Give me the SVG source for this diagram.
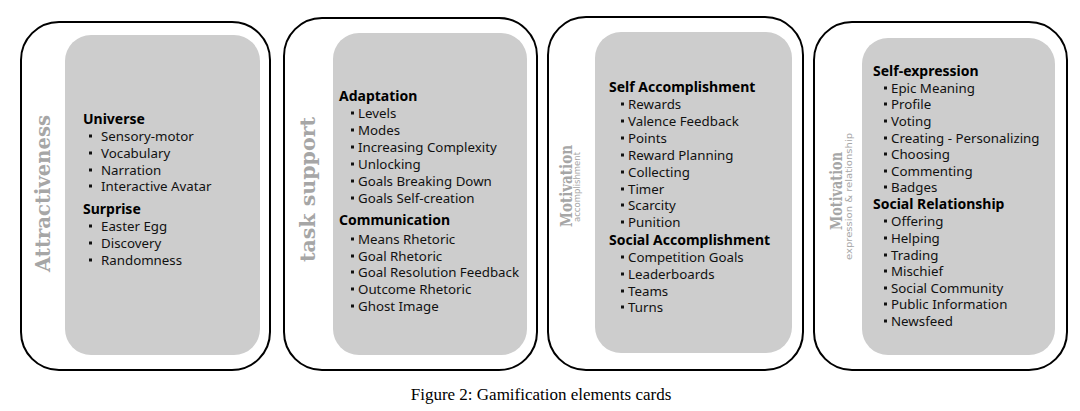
<svg xmlns="http://www.w3.org/2000/svg" width="1080" height="411" viewBox="0 0 1080 411">
<style>
.outer{fill:#fff;stroke:#000;stroke-width:2}
.inner{fill:#cdcdcd}
.h{font-family:"Noto Sans","DejaVu Sans",sans-serif;font-weight:bold;font-size:14px;fill:#000}
.i{font-family:"Noto Sans","DejaVu Sans",sans-serif;font-size:13.3px;fill:#111}
.b{fill:#111}
.vt{font-family:"DejaVu Serif",serif;font-weight:bold;fill:#a6a6a6}
.vs{font-family:"DejaVu Sans",sans-serif;font-size:9px;fill:#a6a6a6}
.cap{font-family:"Liberation Serif","Times New Roman",serif;font-size:17px;fill:#000}
</style>
<rect width="1080" height="411" fill="#fff"/>
<g id="card1">
<rect class="outer" x="21" y="22" width="249" height="348" rx="38"/>
<rect class="inner" x="65" y="35" width="195" height="320" rx="26"/>
<text class="vt" font-size="20" transform="translate(50,193.5) rotate(-90)" text-anchor="middle" textLength="157" lengthAdjust="spacingAndGlyphs">Attractiveness</text>
<text class="h" x="83" y="124">Universe</text>
<g class="i"><text x="101" y="140.5">Sensory-motor</text><text x="101" y="157.5">Vocabulary</text><text x="101" y="174.5">Narration</text><text x="101" y="190.5">Interactive Avatar</text></g>
<text class="h" x="83" y="214">Surprise</text>
<g class="i"><text x="101" y="230.5">Easter Egg</text><text x="101" y="247.5">Discovery</text><text x="101" y="264.5">Randomness</text></g>
<g class="b"><rect x="89" y="134.5" width="3" height="3"/><rect x="89" y="151.5" width="3" height="3"/><rect x="89" y="168.5" width="3" height="3"/><rect x="89" y="184.5" width="3" height="3"/><rect x="89" y="224.5" width="3" height="3"/><rect x="89" y="241.5" width="3" height="3"/><rect x="89" y="258.5" width="3" height="3"/></g>
</g>
<g id="card2">
<rect class="outer" x="284" y="18" width="253" height="352" rx="38"/>
<rect class="inner" x="333" y="33" width="194" height="322" rx="26"/>
<text class="vt" font-size="20" transform="translate(315,189.5) rotate(-90)" text-anchor="middle" textLength="145" lengthAdjust="spacingAndGlyphs">task support</text>
<text class="h" x="339" y="101">Adaptation</text>
<g class="i"><text x="358" y="117.5">Levels</text><text x="358" y="134.5">Modes</text><text x="358" y="151.5">Increasing Complexity</text><text x="358" y="168.5">Unlocking</text><text x="358" y="185.5">Goals Breaking Down</text><text x="358" y="202.5">Goals Self-creation</text></g>
<text class="h" x="339" y="225">Communication</text>
<g class="i"><text x="358" y="243.5">Means Rhetoric</text><text x="358" y="260.5">Goal Rhetoric</text><text x="358" y="276.5">Goal Resolution Feedback</text><text x="358" y="293.5">Outcome Rhetoric</text><text x="358" y="310.5">Ghost Image</text></g>
<g class="b"><rect x="351" y="111.5" width="3" height="3"/><rect x="351" y="128.5" width="3" height="3"/><rect x="351" y="145.5" width="3" height="3"/><rect x="351" y="162.5" width="3" height="3"/><rect x="351" y="179.5" width="3" height="3"/><rect x="351" y="196.5" width="3" height="3"/><rect x="351" y="237.5" width="3" height="3"/><rect x="351" y="254.5" width="3" height="3"/><rect x="351" y="270.5" width="3" height="3"/><rect x="351" y="287.5" width="3" height="3"/><rect x="351" y="304.5" width="3" height="3"/></g>
</g>
<g id="card3">
<rect class="outer" x="548" y="17" width="255" height="353" rx="38"/>
<rect class="inner" x="595" y="32" width="197" height="321" rx="26"/>
<text class="vt" font-size="16" transform="translate(572,186) rotate(-90)" text-anchor="middle" textLength="82" lengthAdjust="spacingAndGlyphs">Motivation</text>
<text class="vs" transform="translate(580,187) rotate(-90)" text-anchor="middle" textLength="70" lengthAdjust="spacingAndGlyphs">accomplishment</text>
<text class="h" x="609" y="91.5">Self Accomplishment</text>
<g class="i"><text x="628" y="108.5">Rewards</text><text x="628" y="125.5">Valence Feedback</text><text x="628" y="142.5">Points</text><text x="628" y="159.5">Reward Planning</text><text x="628" y="176.5">Collecting</text><text x="628" y="193.5">Timer</text><text x="628" y="209.5">Scarcity</text><text x="628" y="226.5">Punition</text></g>
<text class="h" x="609" y="245">Social Accomplishment</text>
<g class="i"><text x="628" y="261.5">Competition Goals</text><text x="628" y="278.5">Leaderboards</text><text x="628" y="295.5">Teams</text><text x="628" y="311.5">Turns</text></g>
<g class="b"><rect x="621" y="102.5" width="3" height="3"/><rect x="621" y="119.5" width="3" height="3"/><rect x="621" y="136.5" width="3" height="3"/><rect x="621" y="153.5" width="3" height="3"/><rect x="621" y="170.5" width="3" height="3"/><rect x="621" y="187.5" width="3" height="3"/><rect x="621" y="203.5" width="3" height="3"/><rect x="621" y="220.5" width="3" height="3"/><rect x="621" y="255.5" width="3" height="3"/><rect x="621" y="272.5" width="3" height="3"/><rect x="621" y="289.5" width="3" height="3"/><rect x="621" y="305.5" width="3" height="3"/></g>
</g>
<g id="card4">
<rect class="outer" x="814" y="22" width="253" height="348" rx="38"/>
<rect class="inner" x="862" y="38" width="193" height="317" rx="26"/>
<text class="vt" font-size="16" transform="translate(842,191) rotate(-90)" text-anchor="middle" textLength="78" lengthAdjust="spacingAndGlyphs">Motivation</text>
<text class="vs" transform="translate(852,196.5) rotate(-90)" text-anchor="middle" textLength="127" lengthAdjust="spacingAndGlyphs">expression &amp; relationship</text>
<text class="h" x="873" y="76">Self-expression</text>
<g class="i"><text x="891" y="92.5">Epic Meaning</text><text x="891" y="108.5">Profile</text><text x="891" y="125.5">Voting</text><text x="891" y="142.5">Creating - Personalizing</text><text x="891" y="158.5">Choosing</text><text x="891" y="175.5">Commenting</text><text x="891" y="191.5">Badges</text></g>
<text class="h" x="873" y="209">Social Relationship</text>
<g class="i"><text x="891" y="225.5">Offering</text><text x="891" y="242.5">Helping</text><text x="891" y="259.5">Trading</text><text x="891" y="275.5">Mischief</text><text x="891" y="292.5">Social Community</text><text x="891" y="308.5">Public Information</text><text x="891" y="325.5">Newsfeed</text></g>
<g class="b"><rect x="884" y="86.5" width="3" height="3"/><rect x="884" y="102.5" width="3" height="3"/><rect x="884" y="119.5" width="3" height="3"/><rect x="884" y="136.5" width="3" height="3"/><rect x="884" y="152.5" width="3" height="3"/><rect x="884" y="169.5" width="3" height="3"/><rect x="884" y="185.5" width="3" height="3"/><rect x="884" y="219.5" width="3" height="3"/><rect x="884" y="236.5" width="3" height="3"/><rect x="884" y="253.5" width="3" height="3"/><rect x="884" y="269.5" width="3" height="3"/><rect x="884" y="286.5" width="3" height="3"/><rect x="884" y="302.5" width="3" height="3"/><rect x="884" y="319.5" width="3" height="3"/></g>
</g>
<g id="connectors"></g>
<text class="cap" x="541" y="400" text-anchor="middle">Figure 2: Gamification elements cards</text>
</svg>
